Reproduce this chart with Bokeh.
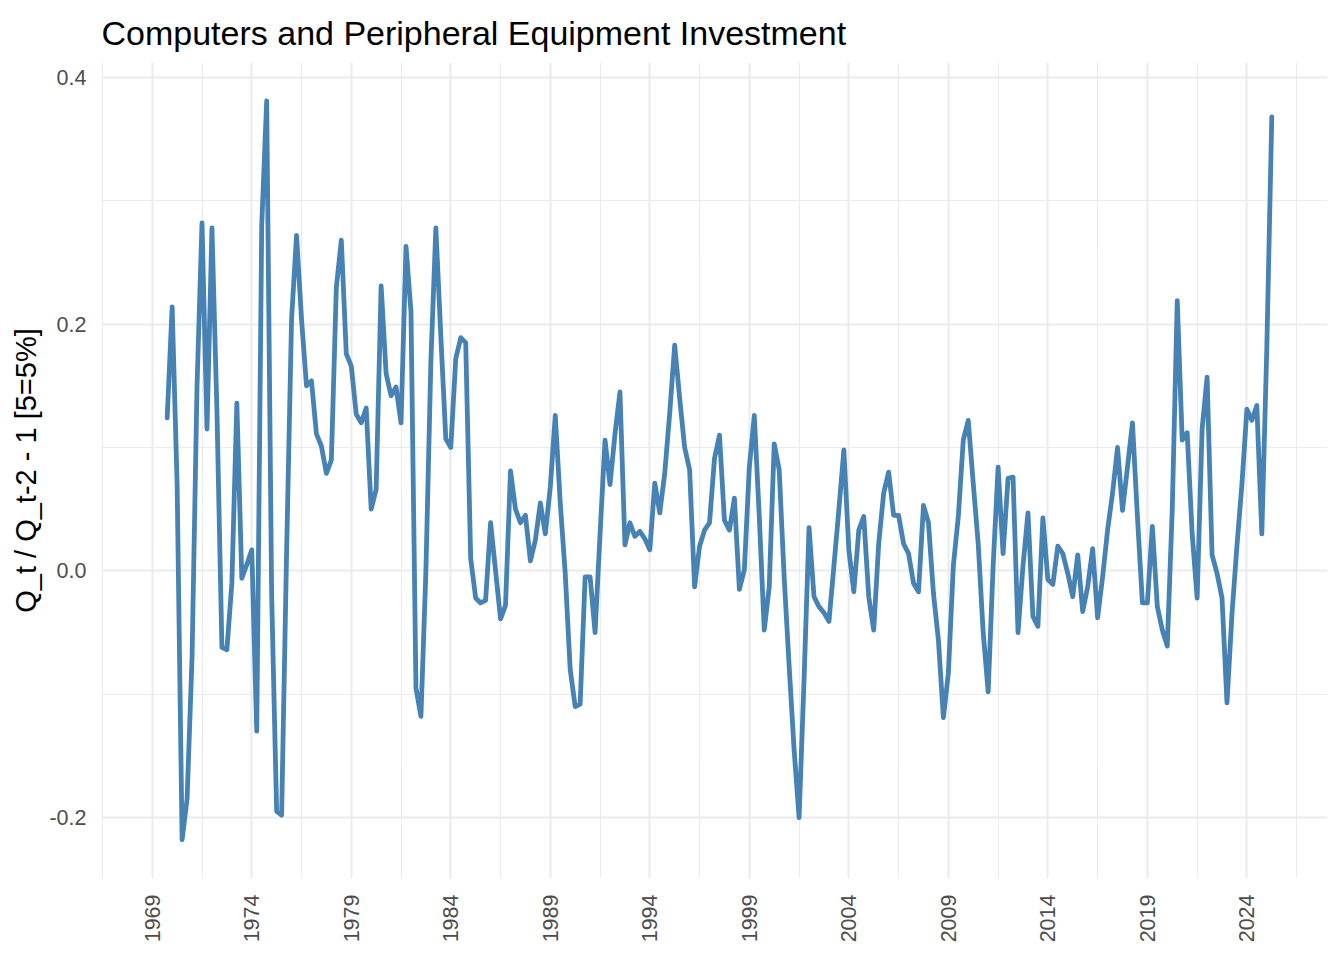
from bokeh.plotting import figure
from bokeh.models import Range1d, FixedTicker, PrintfTickFormatter
from bokeh.embed import file_html
from bokeh.resources import INLINE

# ---- data: quarterly ratio Q_t / Q_{t-2} - 1, first quarter 1969Q4 ----
start_year = 1969
start_quarter = 4
values = [
    0.124, 0.214, 0.070, -0.218, -0.185, -0.070, 0.150, 0.282, 0.115, 0.278,
    0.130, -0.062, -0.064, -0.010, 0.136, -0.006, 0.005, 0.017, -0.130, 0.280,
    0.381, -0.020, -0.195, -0.198, 0.015, 0.204, 0.272, 0.204, 0.150, 0.154,
    0.111, 0.101, 0.079, 0.090, 0.230, 0.268, 0.176, 0.166, 0.127, 0.120,
    0.132, 0.050, 0.066, 0.231, 0.160, 0.142, 0.149, 0.120, 0.263, 0.210,
    -0.095, -0.118, 0.000, 0.170, 0.278, 0.190, 0.107, 0.100, 0.172, 0.189,
    0.185, 0.010, -0.022, -0.026, -0.024, 0.039, 0.000, -0.039, -0.028, 0.081,
    0.050, 0.039, 0.045, 0.008, 0.025, 0.055, 0.030, 0.068, 0.126, 0.055,
    -0.002, -0.080, -0.110, -0.108, -0.005, -0.005, -0.050, 0.030, 0.106, 0.070,
    0.111, 0.145, 0.021, 0.039, 0.028, 0.032, 0.026, 0.017, 0.071, 0.047,
    0.079, 0.128, 0.183, 0.140, 0.100, 0.082, -0.013, 0.020, 0.033, 0.039,
    0.091, 0.110, 0.041, 0.033, 0.059, -0.015, 0.001, 0.084, 0.126, 0.044,
    -0.048, -0.013, 0.103, 0.082, -0.005, -0.077, -0.145, -0.200, -0.088, 0.035,
    -0.021, -0.029, -0.034, -0.041, 0.004, 0.050, 0.098, 0.017, -0.017, 0.033,
    0.044, -0.021, -0.048, 0.022, 0.063, 0.080, 0.045, 0.045, 0.022, 0.014,
    -0.010, -0.017, 0.053, 0.039, -0.018, -0.056, -0.119, -0.083, 0.004, 0.044,
    0.106, 0.122, 0.071, 0.022, -0.050, -0.098, 0.004, 0.084, 0.014, 0.075,
    0.076, -0.050, 0.004, 0.047, -0.037, -0.045, 0.043, -0.007, -0.011, 0.020,
    0.014, -0.002, -0.021, 0.013, -0.033, -0.013, 0.018, -0.038, -0.005, 0.033,
    0.063, 0.100, 0.049, 0.084, 0.120, 0.044, -0.026, -0.026, 0.036, -0.029,
    -0.048, -0.061, 0.050, 0.219, 0.106, 0.112, 0.030, -0.022, 0.115, 0.157,
    0.013, -0.002, -0.022, -0.107, -0.035, 0.020, 0.070, 0.131, 0.122, 0.134,
    0.030, 0.180, 0.368,
]

x_tick_years = [1969, 1974, 1979, 1984, 1989, 1994, 1999, 2004, 2009, 2014, 2019, 2024]
x_minor_years = [1966.5, 1971.5, 1976.5, 1981.5, 1986.5, 1991.5, 1996.5, 2001.5,
                 2006.5, 2011.5, 2016.5, 2021.5, 2026.5]
y_tick_values = [-0.2, 0.0, 0.2, 0.4]
y_minor_values = [-0.1, 0.1, 0.3]

title_text = "Computers and Peripheral Equipment Investment"
y_label = "Q_t / Q_t-2 - 1 [5=5%]"

# decimal-year position of each quarter
xs = [start_year + (start_quarter - 1 + i) / 4 for i in range(len(values))]

FONT = "Liberation Sans"
GRID = "#EBEBEB"

p = figure(
    width=1328, height=952,
    output_backend="svg", toolbar_location=None,
    x_range=Range1d(1966.45, 2028.05),
    y_range=Range1d(-0.2494, 0.4121),
    min_border_left=101, min_border_right=1,
    min_border_top=61, min_border_bottom=74,
    title=title_text,
)
p.outline_line_color = None
p.background_fill_color = "white"
p.border_fill_color = "white"

p.title.text_font = FONT
p.title.text_font_size = "34px"
p.title.text_font_style = "normal"
p.title.text_color = "black"
p.title.align = "left"
p.title.text_line_height = 1.0
p.title.standoff = 22

p.line(xs, values, line_color="#4682B4", line_width=4.8, line_join="round", line_cap="round")

# x axis
xa = p.xaxis[0]
xa.ticker = FixedTicker(ticks=x_tick_years, minor_ticks=x_minor_years)
xa.formatter = PrintfTickFormatter(format="%d")
xa.major_label_orientation = 1.5707963267948966
xa.major_label_text_font = FONT
xa.major_label_text_font_size = "21.5px"
xa.major_label_text_color = "#4D4D4D"
xa.major_label_standoff = 16
xa.axis_line_color = None
xa.major_tick_line_color = None
xa.minor_tick_line_color = None
xa.major_tick_out = 0
xa.major_tick_in = 0
xa.minor_tick_out = 0

# y axis
ya = p.yaxis[0]
ya.ticker = FixedTicker(ticks=y_tick_values, minor_ticks=y_minor_values)
ya.formatter = PrintfTickFormatter(format="%.1f")
ya.major_label_text_font = FONT
ya.major_label_text_font_size = "21.5px"
ya.major_label_text_color = "#4D4D4D"
ya.major_label_standoff = 15
ya.axis_line_color = None
ya.major_tick_line_color = None
ya.minor_tick_line_color = None
ya.major_tick_out = 0
ya.major_tick_in = 0
ya.minor_tick_out = 0
ya.axis_label = y_label
ya.axis_label_text_font = FONT
ya.axis_label_text_font_size = "29px"
ya.axis_label_text_font_style = "normal"
ya.axis_label_text_color = "black"
ya.axis_label_standoff = 4

for g in (p.xgrid[0], p.ygrid[0]):
    g.grid_line_color = GRID
    g.grid_line_width = 2
    g.minor_grid_line_color = GRID
    g.minor_grid_line_width = 1.1

open("out.html", "w").write(file_html(p, INLINE))
